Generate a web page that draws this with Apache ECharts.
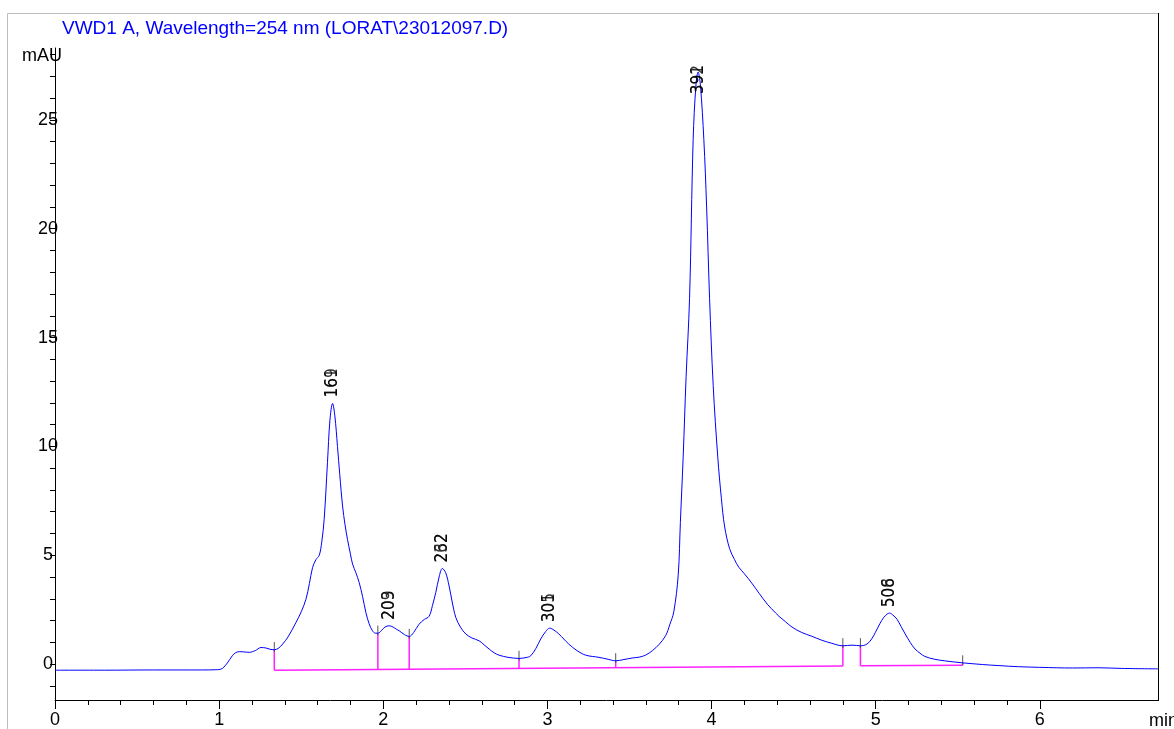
<!DOCTYPE html>
<html>
<head>
<meta charset="utf-8">
<script src="https://cdn.jsdelivr.net/npm/echarts@6/dist/echarts.min.js"></script>
<style>html,body{margin:0;padding:0;background:#fff}#chart{width:1174px;height:729px}</style>
</head>
<body>
<div id="chart"></div>
<script>
// ---- data ----
const titleText = 'VWD1 A, Wavelength=254 nm (LORAT\\23012097.D)';
const traceTimes = [0.00,0.30,0.60,0.90,0.98,1.00,1.02,1.05,1.08,1.10,1.123,1.15,1.184,1.22,1.255,1.285,1.31,1.336,1.36,1.387,1.42,1.468,1.50,1.529,1.55,1.569,1.59,1.61,1.625,1.64,1.66,1.675,1.691,1.705,1.721,1.735,1.752,1.767,1.782,1.80,1.813,1.833,1.853,1.874,1.894,1.914,1.934,1.952,1.969,1.99,2.01,2.036,2.06,2.08,2.097,2.13,2.158,2.185,2.218,2.25,2.279,2.30,2.32,2.34,2.36,2.38,2.401,2.42,2.442,2.47,2.503,2.54,2.584,2.615,2.645,2.675,2.705,2.76,2.827,2.87,2.898,2.93,2.959,2.99,3.014,3.04,3.07,3.10,3.13,3.18,3.233,3.314,3.37,3.416,3.46,3.517,3.56,3.598,3.64,3.68,3.72,3.745,3.77,3.797,3.81,3.827,3.845,3.866,3.888,3.905,3.918,3.932,3.953,3.97,3.988,4.01,4.038,4.06,4.08,4.11,4.14,4.166,4.20,4.245,4.29,4.34,4.39,4.41,4.45,4.49,4.55,4.61,4.67,4.73,4.80,4.856,4.907,4.947,4.975,4.998,5.025,5.049,5.07,5.085,5.105,5.13,5.155,5.18,5.21,5.24,5.27,5.30,5.36,5.42,5.525,5.65,5.75,5.87,6.00,6.20,6.36,6.50,6.72];
const traceValues = [-0.28,-0.28,-0.27,-0.27,-0.26,-0.25,-0.20,0.05,0.38,0.52,0.57,0.56,0.54,0.62,0.76,0.74,0.68,0.66,0.72,0.92,1.25,1.91,2.40,2.98,3.70,4.43,4.80,5.00,5.60,6.65,9.25,11.2,11.97,11.4,10.0,8.7,7.26,6.4,5.73,5.05,4.59,4.2,3.75,3.1,2.37,1.85,1.53,1.42,1.42,1.55,1.70,1.76,1.70,1.60,1.53,1.35,1.27,1.45,1.83,2.05,2.19,2.70,3.29,4.00,4.39,4.20,3.59,2.85,2.14,1.70,1.38,1.20,1.07,0.88,0.69,0.52,0.41,0.31,0.26,0.30,0.38,0.72,1.15,1.50,1.65,1.56,1.38,1.15,0.92,0.62,0.41,0.31,0.22,0.15,0.20,0.28,0.32,0.41,0.62,0.90,1.30,1.80,2.40,4.10,6.5,9.5,13.2,16.8,24.1,26.6,27.2,26.6,24.1,21.0,16.8,12.8,9.5,7.6,6.3,5.3,4.8,4.45,4.15,3.72,3.25,2.75,2.35,2.2,1.95,1.70,1.45,1.28,1.10,0.96,0.84,0.87,0.84,0.92,1.15,1.45,1.85,2.14,2.30,2.34,2.25,2.06,1.72,1.38,1.00,0.69,0.50,0.35,0.22,0.15,0.06,-0.02,-0.07,-0.12,-0.15,-0.18,-0.17,-0.20,-0.22];

// peak apexes and their (overprinted) retention-time labels
const peakTimes   = [1.691, 2.036, 2.360, 3.014, 3.918, 5.085];
const peakHeights = [11.97, 1.76, 4.39, 1.65, 27.2, 2.34];
const peakLabelsA = ['169', '203', '262', '305', '392', '508'];
const peakLabelsB = ['161', '209', '232', '301', '391', '506'];

// integration events: boundary times, trace value there, baseline value there
const eventTimes     = [1.336, 1.967, 2.158, 2.827, 3.416, 4.800, 4.907, 5.530];
const eventTraceVals = [0.66, 1.42, 1.27, 0.26, 0.15, 0.84, 0.84, 0.05];
const eventBaseVals  = [-0.28, -0.245, -0.235, -0.20, -0.165, -0.09, -0.08, -0.05];
const baseline1 = [[1.336, -0.28], [4.800, -0.09]];
const baseline2 = [[4.907, -0.08], [5.530, -0.05]];

// axes
const xMin = 0, xMax = 6.72;
const yMin = -1.65, yMax = 28.3;
const xMajorTicks = [0, 1, 2, 3, 4, 5, 6];
const xMinorTicks = [0,0.2,0.4,0.6,0.8,1,1.2,1.4,1.6,1.8,2,2.2,2.4,2.6,2.8,3,3.2,3.4,3.6,3.8,4,4.2,4.4,4.6,4.8,5,5.2,5.4,5.6,5.8,6];
const yLabelTicks = [0, 5, 10, 15, 20, 25];
const yMinorTicks = [-1,0,1,2,3,4,5,6,7,8,9,10,11,12,13,14,15,16,17,18,19,20,21,22,23,24,25,26,27,28];
const yUnit = 'mAU', xUnit = 'min';

// ---- chart ----
const FONT = '"Liberation Sans", Arial, sans-serif';
const NARROW = '"Liberation Sans Narrow", "DejaVu Sans Condensed", "Liberation Sans", sans-serif';
const trace = traceTimes.map((t, i) => [t, traceValues[i]]);
const labelCap = 25.9; // labels of very tall peaks are pushed down into the frame
const labelPts = (texts) => peakTimes.map((t, i) => ({ value: [t, Math.min(peakHeights[i], labelCap)], name: texts[i] }));

const dropSeries = eventTimes.map((t, i) => ({
  type: 'line', silent: true, symbol: 'none', animation: false,
  lineStyle: { color: '#ff22ff', width: 1.5 },
  data: [[t, eventBaseVals[i]], [t, eventTraceVals[i]]], z: 3
}));
const tickSeries = eventTimes.map((t, i) => ({
  type: 'line', silent: true, symbol: 'none', animation: false,
  lineStyle: { color: '#555', width: 1 },
  data: [[t, eventTraceVals[i] - 0.1], [t, eventTraceVals[i] + 0.35]], z: 4
}));

const labelSeries = (texts) => ({
  type: 'scatter', symbolSize: 0, animation: false, silent: true,
  data: labelPts(texts), z: 6,
  label: {
    show: true, position: 'top', distance: 6, rotate: 90,
    align: 'left', verticalAlign: 'middle',
    formatter: p => p.name, color: '#000', fontSize: 17, fontFamily: NARROW
  }
});

const chart = echarts.init(document.getElementById('chart'), null, { renderer: 'canvas' });
chart.setOption({
  backgroundColor: '#fff',
  animation: false,
  title: {
    text: titleText, left: 57, top: 14,
    textStyle: { color: '#0000ff', fontSize: 19, fontWeight: 'normal', fontFamily: FONT }
  },
  grid: { left: 55, right: 16, top: 48, bottom: 28 },
  xAxis: [{
    type: 'value', min: xMin, max: xMax, position: 'bottom',
    axisLine: { show: true, onZero: false, lineStyle: { color: '#000', width: 1 } },
    axisTick: { show: true, customValues: xMinorTicks, length: 5, lineStyle: { color: '#000' } },
    axisLabel: { show: false },
    splitLine: { show: false }
  }, {
    type: 'value', min: xMin, max: xMax, position: 'bottom',
    axisLine: { show: false, onZero: false },
    axisTick: { show: true, customValues: xMajorTicks, length: 9, lineStyle: { color: '#000' } },
    axisLabel: { show: true, customValues: xMajorTicks, margin: 11, color: '#000', fontSize: 18, fontFamily: FONT },
    splitLine: { show: false }
  }],
  yAxis: {
    type: 'value', min: yMin, max: yMax,
    axisLine: { show: true, onZero: false, lineStyle: { color: '#000', width: 1 } },
    axisTick: { show: true, customValues: yMinorTicks, length: 5, lineStyle: { color: '#000' } },
    axisLabel: { show: true, customValues: yLabelTicks, margin: 7, align: 'center', color: '#000', fontSize: 18, fontFamily: FONT },
    splitLine: { show: false }
  },
  graphic: [
    { type: 'line', shape: { x1: 7.5, y1: 13.5, x2: 1158, y2: 13.5 }, style: { stroke: '#bdbdbd', lineWidth: 1 }, silent: true },
    { type: 'line', shape: { x1: 7.5, y1: 13.5, x2: 7.5, y2: 729 }, style: { stroke: '#bdbdbd', lineWidth: 1 }, silent: true },
    { type: 'line', shape: { x1: 1158.5, y1: 13, x2: 1158.5, y2: 701 }, style: { stroke: '#000', lineWidth: 1 }, silent: true },
    { type: 'text', left: 22, top: 47, style: { text: yUnit, fill: '#000', font: '18px ' + FONT }, z: 10 },
    { type: 'text', left: 1149, top: 712, style: { text: xUnit, fill: '#000', font: '18px ' + FONT }, z: 10 }
  ],
  series: [
    { type: 'line', name: 'baseline1', data: baseline1, symbol: 'none', silent: true, lineStyle: { color: '#ff22ff', width: 1.5 }, z: 3 },
    { type: 'line', name: 'baseline2', data: baseline2, symbol: 'none', silent: true, lineStyle: { color: '#ff22ff', width: 1.5 }, z: 3 },
    ...dropSeries,
    ...tickSeries,
    { type: 'line', name: 'VWD1 A', data: trace, symbol: 'none', smooth: 0.35, silent: true,
      lineStyle: { color: '#0000ff', width: 1 }, z: 5 },
    labelSeries(peakLabelsA),
    labelSeries(peakLabelsB)
  ]
});
</script>
</body>
</html>
